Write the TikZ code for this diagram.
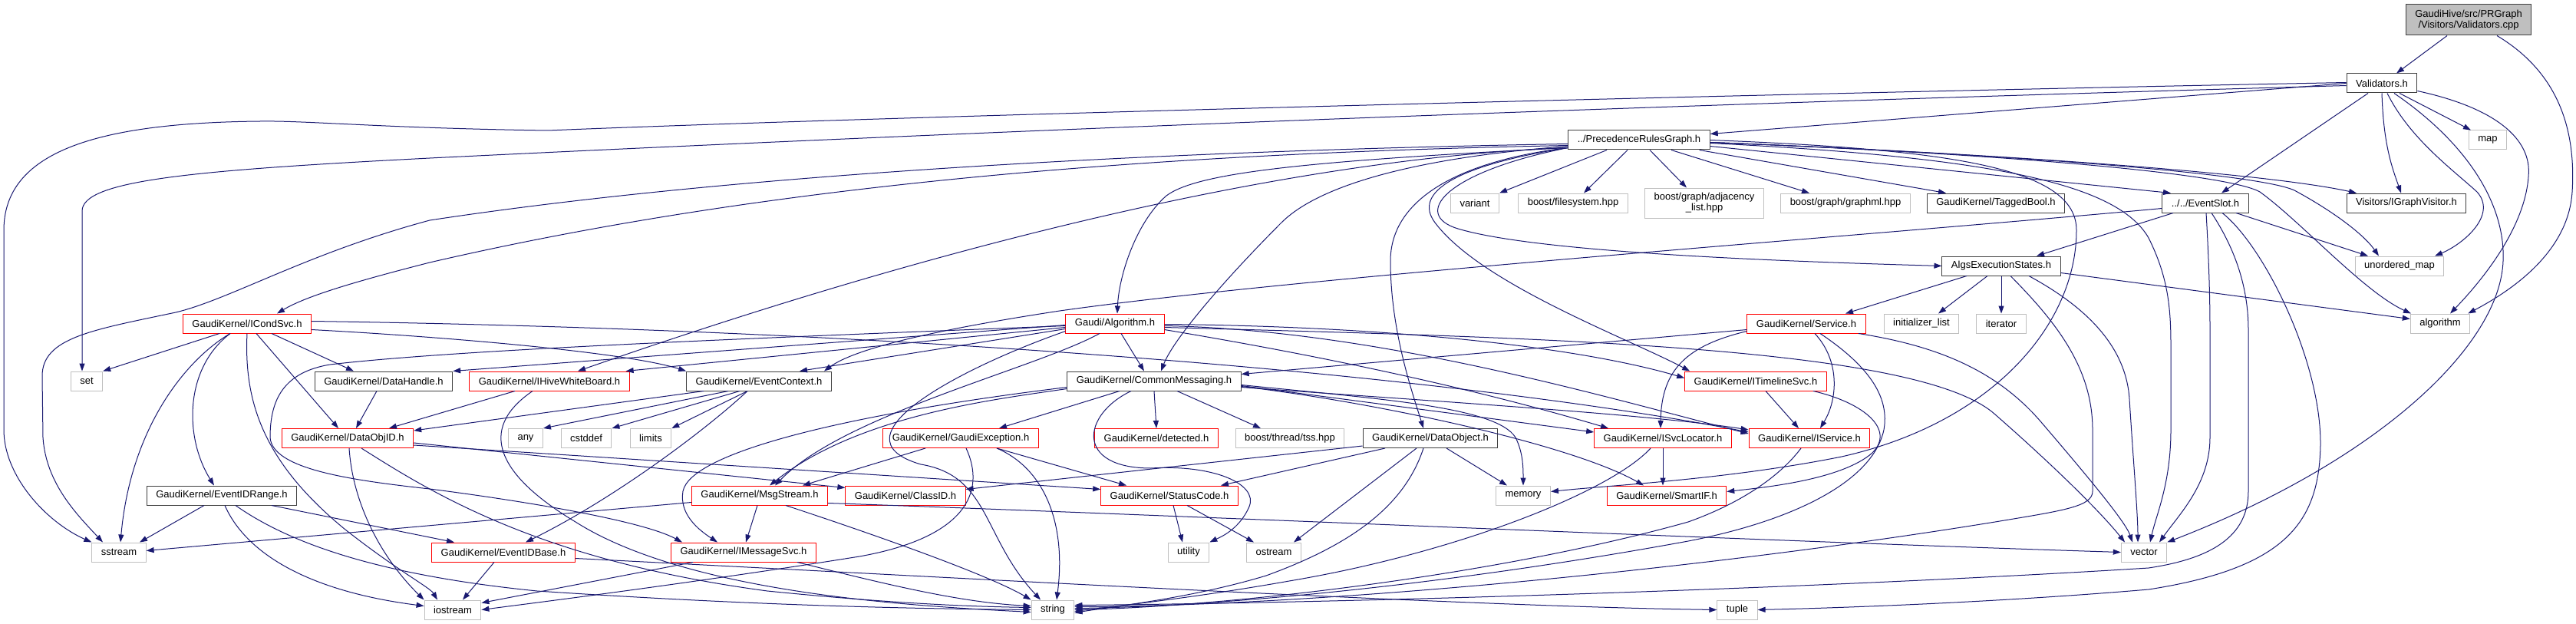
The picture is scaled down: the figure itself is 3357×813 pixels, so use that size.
\documentclass[tikz,border=0pt]{standalone}
\usepackage{fontspec}
\setmainfont{Liberation Sans}
\usetikzlibrary{arrows.meta}

\definecolor{edgeblue}{HTML}{191970}
\definecolor{sysgray}{HTML}{BFBFBF}
\definecolor{rootgray}{HTML}{BFBFBF}
\definecolor{hdrgray}{HTML}{404040}
\definecolor{cutred}{HTML}{FF0000}

\begin{document}
\begin{tikzpicture}[x=1pt,y=-1pt,
  incnode/.style={rectangle,draw,line width=1pt,font=\fontsize{13}{14}\selectfont,inner xsep=12pt,inner ysep=0pt,minimum height=25pt},
  hdrnode/.style={incnode,draw=hdrgray},
  cutnode/.style={incnode,draw=cutred},
  sysnode/.style={incnode,draw=sysgray},
  rootnode/.style={incnode,draw=hdrgray,fill=rootgray,align=center,minimum height=40pt},
  incl/.style={edgeblue,line width=1pt,-{Triangle[length=10pt,width=7pt]}}]
\useasboundingbox (0,0) rectangle (3357,813);

\node[rootnode] (cpp) at (3217,26) {GaudiHive/src/PRGraph\\/Visitors/Validators.cpp};
\node[hdrnode] (vh) at (3104,108.5) {Validators.h};
\node[hdrnode] (prg) at (2136,182.5) {../PrecedenceRulesGraph.h};
\node[sysnode] (map) at (3242,182.5) {map};
\node[sysnode] (variant) at (1922,264.5) {variant};
\node[sysnode] (fs) at (2050,264.5) {boost/filesystem.hpp};
\node[sysnode,align=center,minimum height=39pt] (adj) at (2221,264.5) {boost/graph/adjacency\\\_list.hpp};
\node[sysnode] (gml) at (2405,264.5) {boost/graph/graphml.hpp};
\node[hdrnode] (tb) at (2601,264.5) {GaudiKernel/TaggedBool.h};
\node[hdrnode] (es) at (2874,264.5) {../../EventSlot.h};
\node[hdrnode] (igv) at (3136,264.5) {Visitors/IGraphVisitor.h};
\node[hdrnode] (aes) at (2608,346.5) {AlgsExecutionStates.h};
\node[sysnode] (umap) at (3127,346.5) {unordered\_map};
\node[cutnode] (ics) at (322,421.5) {GaudiKernel/ICondSvc.h};
\node[cutnode] (alg) at (1453,421.5) {Gaudi/Algorithm.h};
\node[cutnode] (svc) at (2354,421.5) {GaudiKernel/Service.h};
\node[sysnode] (il) at (2504,421.5) {initializer\_list};
\node[sysnode] (iter) at (2608,421.5) {iterator};
\node[sysnode] (algo) at (3180,421.5) {algorithm};
\node[sysnode] (set) at (113,496.5) {set};
\node[hdrnode] (dh) at (500,496.5) {GaudiKernel/DataHandle.h};
\node[cutnode] (ihwb) at (716,496.5) {GaudiKernel/IHiveWhiteBoard.h};
\node[hdrnode] (ec) at (989,496.5) {GaudiKernel/EventContext.h};
\node[hdrnode] (cm) at (1504,496.5) {GaudiKernel/CommonMessaging.h};
\node[cutnode] (itl) at (2288,496.5) {GaudiKernel/ITimelineSvc.h};
\node[cutnode] (doid) at (453,571) {GaudiKernel/DataObjID.h};
\node[sysnode] (any) at (685,571) {any};
\node[sysnode] (cstddef) at (764,571) {cstddef};
\node[sysnode] (limits) at (848,571) {limits};
\node[cutnode] (ge) at (1252,571) {GaudiKernel/GaudiException.h};
\node[cutnode] (det) at (1507,571) {GaudiKernel/detected.h};
\node[sysnode] (tss) at (1681,571) {boost/thread/tss.hpp};
\node[hdrnode] (dobj) at (1864,571) {GaudiKernel/DataObject.h};
\node[cutnode] (isl) at (2167,571) {GaudiKernel/ISvcLocator.h};
\node[cutnode] (isv) at (2358,571) {GaudiKernel/IService.h};
\node[hdrnode] (eidr) at (289,645.5) {GaudiKernel/EventIDRange.h};
\node[cutnode] (ms) at (990,645.5) {GaudiKernel/MsgStream.h};
\node[cutnode] (cid) at (1180,645.5) {GaudiKernel/ClassID.h};
\node[cutnode] (sc) at (1524,645.5) {GaudiKernel/StatusCode.h};
\node[sysnode] (mem) at (1985,645.5) {memory};
\node[cutnode] (sif) at (2172,645.5) {GaudiKernel/SmartIF.h};
\node[sysnode] (sstream) at (155,719.5) {sstream};
\node[cutnode] (eidb) at (656,719.5) {GaudiKernel/EventIDBase.h};
\node[cutnode] (ims) at (969,719.5) {GaudiKernel/IMessageSvc.h};
\node[sysnode] (util) at (1549,719.5) {utility};
\node[sysnode] (ostream) at (1660,719.5) {ostream};
\node[sysnode] (vec) at (2794,719.5) {vector};
\node[sysnode] (ios) at (590,794.5) {iostream};
\node[sysnode] (str) at (1372,794.5) {string};
\node[sysnode] (tuple) at (2264,794.5) {tuple};

% Validators.cpp
\draw[incl] ([xshift=-28pt]cpp.south) -- ([xshift=19pt]vh.north);
\draw[incl] ([xshift=37pt]cpp.south) .. controls (3335,95) and (3357,170) .. (3352,250) .. controls (3347,330) and (3270,380) .. ([xshift=-3pt]algo.north east);

% Validators.h
\draw[incl] (vh.west) -- ([yshift=8pt]prg.east);
\draw[incl] ([yshift=1pt]vh.west) .. controls (2400,120) and (1200,150) .. (714,170) .. controls (500,167) and (400,157) .. (339,158) .. controls (120,160) and (5,200) .. (5,300) -- (5,560) .. controls (5,620) and (60,680) .. (sstream.north west);
\draw[incl] ([yshift=-3pt]vh.west) .. controls (2400,130) and (1500,160) .. (560,206) .. controls (250,222) and (107,235) .. (107,275) -- ([xshift=-6pt]set.north);
\draw[incl] ([xshift=-18pt]vh.south) -- ([xshift=21pt]es.north);
\draw[incl] (vh.south) .. controls (3106,190) and (3118,220) .. ([xshift=-7pt]igv.north);
\draw[incl] ([xshift=23pt]vh.south) -- ([xshift=-22pt]map.north);
\draw[incl] ([xshift=7pt]vh.south) .. controls (3140,180) and (3195,220) .. (3228,250) .. controls (3255,280) and (3210,318) .. ([xshift=46pt]umap.north);
\draw[incl] ([xshift=16pt]vh.south) .. controls (3220,190) and (3265,270) .. (3262,340) .. controls (3258,450) and (3100,600) .. (vec.north east);
\draw[incl] ([yshift=-10pt]vh.east) .. controls (3250,140) and (3300,180) .. (3295,230) .. controls (3290,300) and (3230,370) .. ([xshift=13pt]algo.north);

% PrecedenceRulesGraph.h
\draw[incl] ([yshift=-5pt]prg.west) .. controls (1600,195) and (1000,220) .. (560,287) .. controls (400,330) and (300,390) .. (229,407) .. controls (120,430) and (55,440) .. (55,490) -- (56,570) .. controls (60,630) and (100,670) .. ([xshift=-21pt]sstream.north);
\draw[incl] ([yshift=-7pt]prg.west) .. controls (1500,200) and (1000,240) .. (560,342) .. controls (470,365) and (400,385) .. ([xshift=39pt]ics.north);
\draw[incl] ([yshift=-10pt]prg.west) .. controls (1700,205) and (1250,310) .. ([xshift=37pt]ihwb.north);
\draw[incl] ([yshift=-10pt]prg.west) .. controls (1700,210) and (1560,225) .. (1520,255) .. controls (1480,290) and (1458,360) .. ([xshift=3pt]alg.north);
\draw[incl] ([yshift=-8pt]prg.west) .. controls (1850,205) and (1720,240) .. (1670,290) .. controls (1600,360) and (1530,440) .. ([xshift=9pt]cm.north);
\draw[incl] ([yshift=-10pt]prg.west) .. controls (1900,210) and (1812,260) .. (1812,340) .. controls (1812,430) and (1840,510) .. ([xshift=-9pt]dobj.north);
\draw[incl] ([yshift=-10pt]prg.west) .. controls (1900,215) and (1840,250) .. (1870,290) .. controls (1930,370) and (2120,440) .. ([xshift=7pt]itl.north west);
\draw[incl] ([yshift=-10pt]prg.west) .. controls (1880,225) and (1840,280) .. (1900,298) .. controls (2000,328) and (2300,340) .. (aes.west);
\draw[incl] (prg.east) .. controls (2550,195) and (2706,220) .. (2706,300) .. controls (2706,420) and (2600,550) .. (2400,595) .. controls (2250,625) and (2100,632) .. ([yshift=5pt]mem.east);
\draw[incl] ([xshift=-42pt]prg.south) -- (variant.north east);
\draw[incl] ([xshift=-15pt]prg.south) -- ([xshift=14pt]fs.north);
\draw[incl] ([xshift=14pt]prg.south) -- ([xshift=-23pt]adj.north);
\draw[incl] ([xshift=42pt]prg.south) -- ([xshift=-47pt]gml.north);
\draw[incl] ([xshift=-14pt]prg.south east) -- ([xshift=-65pt]tb.north);
\draw[incl] ([yshift=-8pt]prg.east) -- ([xshift=-45pt]es.north);
\draw[incl] ([yshift=-3pt]prg.east) .. controls (2600,200) and (2950,225) .. ([xshift=-65pt]igv.north);
\draw[incl] ([yshift=-3pt]prg.east) .. controls (2600,200) and (2940,225) .. (2990,248) .. controls (3040,275) and (3080,305) .. ([xshift=-27pt]umap.north);
\draw[incl] ([yshift=-3pt]prg.east) .. controls (2600,200) and (2900,225) .. (2945,250) .. controls (3000,290) and (3080,380) .. ([xshift=-38pt]algo.north);
\draw[incl] ([yshift=-4pt]prg.east) .. controls (2600,205) and (2760,240) .. (2800,310) .. controls (2825,360) and (2829,400) .. (2829,450) -- (2829,560) .. controls (2829,630) and (2810,670) .. ([xshift=8pt]vec.north);

% EventSlot.h
\draw[incl] ([yshift=-7pt]es.west) .. controls (2400,310) and (1700,360) .. (1381,405) .. controls (1250,425) and (1120,450) .. ([xshift=85pt]ec.north);
\draw[incl] ([xshift=-42pt]es.south) -- ([xshift=46pt]aes.north);
\draw[incl] ([xshift=40pt]es.south) -- ([xshift=-41pt]umap.north);
\draw[incl] ([xshift=1pt]es.south) .. controls (2878,330) and (2880,380) .. (2880,430) -- (2880,570) .. controls (2880,630) and (2840,670) .. ([xshift=20pt]vec.north);
\draw[incl] ([xshift=8pt]es.south) .. controls (2910,320) and (2930,370) .. (2930,430) -- (2930,640) .. controls (2930,700) and (2880,728) .. (2800,740) .. controls (2400,765) and (1800,785) .. ([yshift=6pt]str.east);
\draw[incl] ([xshift=22pt]es.south) .. controls (2950,320) and (3025,470) .. (3024,580) .. controls (3022,680) and (2980,740) .. (2800,768) .. controls (2600,785) and (2400,792) .. (tuple.east);

% AlgsExecutionStates.h
\draw[incl] ([xshift=-45pt]aes.south) -- ([xshift=51pt]svc.north);
\draw[incl] ([xshift=-18pt]aes.south) -- ([xshift=22pt]il.north);
\draw[incl] (aes.south) -- (iter.north);
\draw[incl] ([xshift=36pt]aes.south) .. controls (2700,390) and (2770,440) .. (2775,520) .. controls (2780,600) and (2786,670) .. ([xshift=-8pt]vec.north);
\draw[incl] ([xshift=12pt]aes.south) .. controls (2680,420) and (2727,480) .. (2727,560) -- (2727,640) .. controls (2727,660) and (2690,665) .. (2600,680) .. controls (2200,745) and (1700,790) .. ([yshift=4pt]str.east);
\draw[incl] ([yshift=-9pt]aes.east) -- ([yshift=6pt]algo.west);

% Service.h
\draw[incl] ([yshift=-8pt]svc.west) -- ([yshift=9pt]cm.east);
\draw[incl] ([yshift=-10pt]svc.west) .. controls (2200,450) and (2165,480) .. ([xshift=-3pt]isl.north);
\draw[incl] ([xshift=11pt]svc.south) .. controls (2398,470) and (2395,520) .. ([xshift=14pt]isv.north);
\draw[incl] ([xshift=18pt]svc.south) .. controls (2440,480) and (2462,520) .. (2455,560) .. controls (2440,630) and (2330,680) .. (2200,705) .. controls (1900,760) and (1600,790) .. ([yshift=2pt]str.east);
\draw[incl] ([xshift=68pt]svc.south) .. controls (2520,450) and (2600,480) .. (2660,550) .. controls (2720,620) and (2770,680) .. ([xshift=-15pt]vec.north);

% ITimelineSvc.h, IService.h, ISvcLocator.h
\draw[incl] ([xshift=13pt]itl.south) -- ([xshift=-14pt]isv.north);
\draw[incl] ([xshift=75pt]itl.south) .. controls (2430,525) and (2470,560) .. (2440,590) .. controls (2400,625) and (2300,635) .. ([yshift=5pt]sif.east);
\draw[incl] ([xshift=-11pt]isv.south) .. controls (2320,620) and (2270,655) .. (2200,680) .. controls (1950,750) and (1600,790) .. (str.east);
\draw[incl] (isl.south) -- ([xshift=-5pt]sif.north);
\draw[incl] ([xshift=-16pt]isl.south) .. controls (2100,640) and (1900,720) .. (1680,757) .. controls (1550,780) and (1450,790) .. ([yshift=-2pt]str.east);

% DataObject.h
\draw[incl] ([xshift=21pt]dobj.south) -- ([xshift=-21pt]mem.north);
\draw[incl] ([xshift=-18pt]dobj.south) -- ([xshift=26pt]ostream.north);
\draw[incl] ([xshift=-9pt]dobj.south) .. controls (1830,660) and (1760,710) .. (1650,750) .. controls (1550,780) and (1450,790) .. ([yshift=-4pt]str.east);
\draw[incl] ([yshift=-10pt]dobj.west) -- ([yshift=8pt]cid.east);
\draw[incl] ([xshift=-59pt]dobj.south) -- ([xshift=67pt]sc.north);

% CommonMessaging.h
\draw[incl] ([xshift=-45pt]cm.south) -- ([xshift=50pt]ge.north);
\draw[incl] (cm.south) -- (det.north);
\draw[incl] ([xshift=30pt]cm.south) -- ([xshift=-38pt]tss.north);
\draw[incl] ([xshift=-30pt]cm.south) .. controls (1410,540) and (1400,610) .. (1500,610) .. controls (1580,605) and (1640,630) .. (1628,660) .. controls (1615,690) and (1590,700) .. (util.north east);
\draw[incl] ([yshift=-8pt]cm.west) .. controls (1100,540) and (900,590) .. (890,640) .. controls (885,670) and (910,690) .. ([xshift=-34pt]ims.north);
\draw[incl] ([yshift=-10pt]cm.west) .. controls (1300,520) and (1120,540) .. ([xshift=13pt]ms.north);
\draw[incl] ([yshift=-5pt]cm.east) .. controls (1800,520) and (1950,530) .. (1975,570) .. controls (1985,590) and (1985,610) .. (mem.north);
\draw[incl] ([yshift=-6pt]cm.east) -- ([yshift=8pt]isl.west);
\draw[incl] ([yshift=-7pt]cm.east) .. controls (1800,525) and (2050,580) .. ([xshift=-30pt]sif.north);
\draw[incl] ([yshift=-8pt]cm.east) .. controls (1900,525) and (2150,540) .. ([yshift=11pt]isv.west);

% Algorithm.h
\draw[incl] ([xshift=8pt]alg.south) -- ([xshift=-13pt]cm.north);
\draw[incl] ([yshift=-2pt]alg.west) -- (dh.north east);
\draw[incl] ([yshift=-5pt]alg.west) -- ([xshift=-5pt]ihwb.north east);
\draw[incl] ([yshift=-7pt]alg.west) -- ([xshift=53pt]ec.north);
\draw[incl] ([yshift=-3pt]alg.west) .. controls (1000,440) and (600,455) .. (430,475) .. controls (370,485) and (352,520) .. (352,570) .. controls (355,610) and (450,625) .. (560,637) .. controls (700,655) and (840,680) .. ([xshift=-80pt]ims.north);
\draw[incl] ([xshift=-20pt]alg.south) .. controls (1350,480) and (1100,540) .. ([xshift=20pt]ms.north);
\draw[incl] ([yshift=-10pt]alg.west) .. controls (1250,480) and (1080,570) .. (1200,605) .. controls (1290,620) and (1280,700) .. ([xshift=-16pt]str.north);
\draw[incl] ([yshift=-5pt]alg.east) .. controls (2000,440) and (2500,450) .. (2600,540) .. controls (2680,610) and (2740,670) .. ([xshift=-25pt]vec.north);
\draw[incl] ([yshift=-3pt]alg.east) .. controls (1800,430) and (2100,520) .. ([yshift=6pt]isv.west);
\draw[incl] ([yshift=-8pt]alg.east) .. controls (1700,460) and (1900,500) .. ([xshift=-71pt]isl.north);
\draw[incl] ([yshift=-1pt]alg.east) .. controls (1800,425) and (2050,450) .. ([yshift=4pt]itl.west);

% EventContext.h
\draw[incl] ([xshift=-40pt]ec.south) -- (any.north east);
\draw[incl] ([xshift=-25pt]ec.south) -- (cstddef.north east);
\draw[incl] ([xshift=-15pt]ec.south) -- (limits.north east);
\draw[incl] ([xshift=-15pt]ec.south) .. controls (920,560) and (800,650) .. ([xshift=29pt]eidb.north);
\draw[incl] ([xshift=-72pt]ec.south) -- ([yshift=10pt]doid.east);

% ICondSvc.h
\draw[incl] ([xshift=-36pt]ics.south) -- (set.north east);
\draw[incl] ([xshift=-22pt]ics.south) .. controls (240,470) and (170,560) .. ([xshift=2pt]sstream.north);
\draw[incl] ([xshift=-22pt]ics.south) .. controls (240,480) and (240,570) .. ([xshift=-10pt]eidr.north);
\draw[incl] ([xshift=12pt]ics.south) -- ([xshift=-12pt]doid.north);
\draw[incl] ([xshift=32pt]ics.south) -- ([xshift=-39pt]dh.north);
\draw[incl] (ics.south) .. controls (318,520) and (340,600) .. (450,690) .. controls (520,745) and (560,765) .. ([xshift=-20pt]ios.north);
\draw[incl] ([yshift=-8pt]ics.east) .. controls (600,440) and (820,460) .. (ec.north west);
\draw[incl] ([yshift=3pt]ics.east) .. controls (1200,430) and (1900,490) .. ([yshift=8pt]isv.west);

% DataHandle.h, IHiveWhiteBoard.h
\draw[incl] ([xshift=-9pt]dh.south) -- ([xshift=11pt]doid.north);
\draw[incl] ([xshift=-45pt]ihwb.south) -- ([xshift=54pt]doid.north);
\draw[incl] ([xshift=-22pt]ihwb.south) .. controls (620,560) and (650,620) .. (750,680) .. controls (900,775) and (1200,790) .. ([yshift=-3pt]str.west);

% DataObjID.h
\draw[incl] ([yshift=-6pt]doid.east) -- ([yshift=10pt]cid.west);
\draw[incl] ([yshift=-9pt]doid.east) -- ([yshift=8pt]sc.west);
\draw[incl] ([xshift=2pt]doid.south) .. controls (460,660) and (500,730) .. (ios.north west);
\draw[incl] ([xshift=18pt]doid.south) .. controls (560,640) and (700,730) .. (1000,770) .. controls (1150,785) and (1250,790) .. ([yshift=3pt]str.west);

% EventIDRange.h
\draw[incl] ([xshift=-23pt]eidr.south) -- ([xshift=27pt]sstream.north);
\draw[incl] ([xshift=4pt]eidr.south) .. controls (320,720) and (400,770) .. ([yshift=5pt]ios.west);
\draw[incl] ([xshift=18pt]eidr.south) .. controls (380,710) and (500,750) .. (700,770) .. controls (1000,790) and (1200,793) .. (str.west);
\draw[incl] ([xshift=65pt]eidr.south) -- ([xshift=-64pt]eidb.north);

% MsgStream.h
\draw[incl] ([xshift=-3pt]ms.south) -- ([xshift=3pt]ims.north);
\draw[incl] ([yshift=-9pt]ms.west) -- ([yshift=2pt]sstream.east);
\draw[incl] ([xshift=34pt]ms.south) .. controls (1150,700) and (1290,750) .. (str.north west);
\draw[incl] ([yshift=-10pt]ms.east) .. controls (1500,670) and (2300,705) .. (vec.west);

% GaudiException.h, StatusCode.h
\draw[incl] ([xshift=47pt]ge.south) -- ([xshift=-56pt]sc.north);
\draw[incl] ([xshift=47pt]ge.south) .. controls (1360,610) and (1390,680) .. ([xshift=5pt]str.north);
\draw[incl] ([xshift=7pt]ge.south) .. controls (1285,640) and (1260,700) .. (1120,725) .. controls (900,760) and (700,785) .. (ios.east);
\draw[incl] ([xshift=-46pt]ge.south) -- ([xshift=56pt]ms.north);
\draw[incl] ([xshift=5pt]sc.south) -- ([xshift=-8pt]util.north);
\draw[incl] ([xshift=23pt]sc.south) -- ([xshift=-26pt]ostream.north);

% EventIDBase.h, IMessageSvc.h
\draw[incl] ([xshift=-12pt]eidb.south) -- ([xshift=13pt]ios.north);
\draw[incl] ([yshift=-8pt]eidb.east) .. controls (1200,750) and (1900,790) .. (tuple.west);
\draw[incl] ([xshift=-66pt]ims.south) -- ([yshift=9pt]ios.east);
\draw[incl] ([xshift=70pt]ims.south) .. controls (1150,760) and (1250,785) .. ([yshift=5pt]str.west);
\end{tikzpicture}
\end{document}
